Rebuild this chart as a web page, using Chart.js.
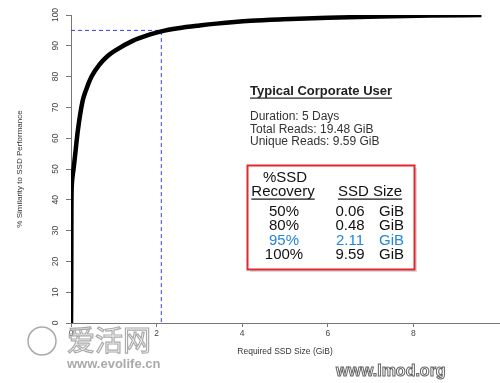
<!DOCTYPE html>
<html>
<head>
<meta charset="utf-8">
<script src="https://cdn.jsdelivr.net/npm/chart.js@4/dist/chart.umd.min.js"></script>
<style>
  html, body { margin: 0; padding: 0; background: #fff; }
  #wrap { position: relative; width: 500px; height: 383px; }
</style>
</head>
<body>
<div id="wrap"><canvas id="chart"></canvas></div>
<script>
  // ── data ──
  const sizeGiB = [0, 0.005, 0.01, 0.02, 0.04, 0.06, 0.1, 0.16, 0.27, 0.35, 0.48, 0.66, 0.85, 1.05, 1.44, 1.83, 2.11, 2.5, 3.0, 3.4, 4.2, 4.96, 6, 7.2, 8.4, 9.59];
  const similarity = [0, 12, 38, 45, 48, 50, 55, 62.5, 72, 75.6, 80, 83.8, 86.6, 88.6, 91.6, 93.6, 94.7, 95.7, 96.6, 97.2, 98.1, 98.6, 99.1, 99.5, 99.8, 100];
  const guideSize = 2.11;
  const guideLevel = 95;

  const xTicks = [0, 2, 4, 6, 8];
  const yTicks = [0, 10, 20, 30, 40, 50, 60, 70, 80, 90, 100];

  const boxTitle = 'Typical Corporate User';
  const infoLines = ['Duration: 5 Days', 'Total Reads: 19.48 GiB', 'Unique Reads: 9.59 GiB'];
  const recoveryPct = ['50%', '80%', '95%', '100%'];
  const ssdSize = ['0.06', '0.48', '2.11', '9.59'];
  const highlightRow = 2;

  const FONT = '"Liberation Sans", Arial, sans-serif';

  // rotated y tick labels + text panel + watermarks
  const extras = {
    id: 'extras',
    afterDraw(chart) {
      const ctx = chart.ctx;
      const y = chart.scales.y;

      ctx.save();
      ctx.fillStyle = '#444';
      ctx.font = '8.5px ' + FONT;
      ctx.textAlign = 'center';
      ctx.textBaseline = 'middle';
      yTicks.forEach(v => {
        ctx.save();
        ctx.translate(56, y.getPixelForValue(v));
        ctx.rotate(-Math.PI / 2);
        ctx.fillText(String(v), 0, 0);
        ctx.restore();
      });
      ctx.restore();

      ctx.save();
      ctx.textBaseline = 'middle';
      // heading
      ctx.fillStyle = '#222';
      ctx.font = 'bold 13px ' + FONT;
      ctx.fillText(boxTitle, 250, 91);
      const tw = ctx.measureText(boxTitle).width;
      ctx.fillRect(250, 97.5, tw, 1.2);

      ctx.fillStyle = '#333';
      ctx.font = '12px ' + FONT;
      infoLines.forEach((t, i) => ctx.fillText(t, 250, 117 + i * 12.5));

      // table box
      ctx.fillStyle = 'rgba(0,0,0,0.15)';
      ctx.fillRect(250, 168, 167, 104);
      ctx.fillStyle = '#fff';
      ctx.fillRect(247.5, 165.5, 167, 104);
      ctx.strokeStyle = '#e3262b';
      ctx.lineWidth = 2;
      ctx.strokeRect(247.5, 165.5, 167, 104);

      ctx.fillStyle = '#111';
      ctx.font = '15px ' + FONT;
      ctx.textAlign = 'center';
      ctx.fillText('%SSD', 285, 177.5);
      ctx.fillText('Recovery', 283, 192);
      ctx.fillText('SSD Size', 370, 192);
      const rw = ctx.measureText('Recovery').width;
      const sw = ctx.measureText('SSD Size').width;
      ctx.fillRect(283 - rw / 2, 198.5, rw, 1.2);
      ctx.fillRect(370 - sw / 2, 198.5, sw, 1.2);

      recoveryPct.forEach((p, i) => {
        const cy = 212 + i * 14.2;
        ctx.fillStyle = i === highlightRow ? '#2385dc' : '#111';
        ctx.textAlign = 'center';
        ctx.fillText(p, 284, cy);
        ctx.fillText(ssdSize[i], 350, cy);
        ctx.textAlign = 'left';
        ctx.fillText('GiB', 379, cy);
      });
      ctx.restore();

      // watermarks
      ctx.save();
      ctx.strokeStyle = '#aaa';
      ctx.lineWidth = 1.5;
      ctx.beginPath();
      ctx.arc(42, 341, 14, 0, Math.PI * 2);
      ctx.stroke();
      ctx.font = '28px "Noto Sans CJK SC", sans-serif';
      ctx.textBaseline = 'middle';
      ctx.lineWidth = 1.2;
      ctx.strokeText('爱活网', 67, 340);
      ctx.fillStyle = '#aaa';
      ctx.font = 'bold 13px ' + FONT;
      ctx.fillText('www.evolife.cn', 67, 364);
      ctx.font = 'bold 16px ' + FONT;
      ctx.fillStyle = '#fff';
      ctx.strokeStyle = '#666';
      ctx.lineWidth = 1;
      ctx.fillText('www.lmod.org', 336, 372);
      ctx.strokeText('www.lmod.org', 336, 372);
      ctx.restore();
    }
  };

  const curve = sizeGiB.map((x, i) => ({ x, y: similarity[i] }));
  const guide = [{ x: 0, y: guideLevel }, { x: guideSize, y: guideLevel }, { x: guideSize, y: 0 }];

  new Chart(document.getElementById('chart'), {
    type: 'line',
    data: {
      datasets: [
        { data: curve, borderColor: '#000', borderWidth: 4.5, pointRadius: 0, cubicInterpolationMode: 'monotone', order: 1 },
        { data: guide, borderColor: '#3b3bff', borderWidth: 1, borderDash: [4, 3], pointRadius: 0, tension: 0, order: 2 },
      ]
    },
    options: {
      responsive: true,
      maintainAspectRatio: false,
      animation: false,
      layout: { padding: { left: 0, top: 15, right: 1, bottom: 0 } },
      plugins: { legend: { display: false }, tooltip: { enabled: false } },
      scales: {
        x: {
          type: 'linear', min: 0, max: 10,
          afterBuildTicks: s => { s.ticks = xTicks.map(v => ({ value: v })); },
          afterFit: s => { s.height = 60; },
          ticks: { color: '#444', font: { family: FONT, size: 8.5 }, padding: 2, maxRotation: 0 },
          grid: { drawOnChartArea: false, drawTicks: true, tickLength: 4, color: '#777' },
          border: { display: true, color: '#777' },
          title: { display: true, text: 'Required SSD Size (GiB)', color: '#333', font: { family: FONT, size: 8.5 }, padding: { top: 0, bottom: 26 } }
        },
        y: {
          type: 'linear', min: 0, max: 100,
          afterBuildTicks: s => { s.ticks = yTicks.map(v => ({ value: v })); },
          afterFit: s => { s.width = 71; },
          ticks: { display: false },
          grid: { drawOnChartArea: false, drawTicks: true, tickLength: 5, color: '#777' },
          border: { display: true, color: '#777' },
          title: { display: true, text: '% Similarity to SSD Performance', color: '#333', font: { family: FONT, size: 8 }, padding: { top: 15, bottom: 0 } }
        }
      }
    },
    plugins: [extras]
  });
</script>
</body>
</html>
